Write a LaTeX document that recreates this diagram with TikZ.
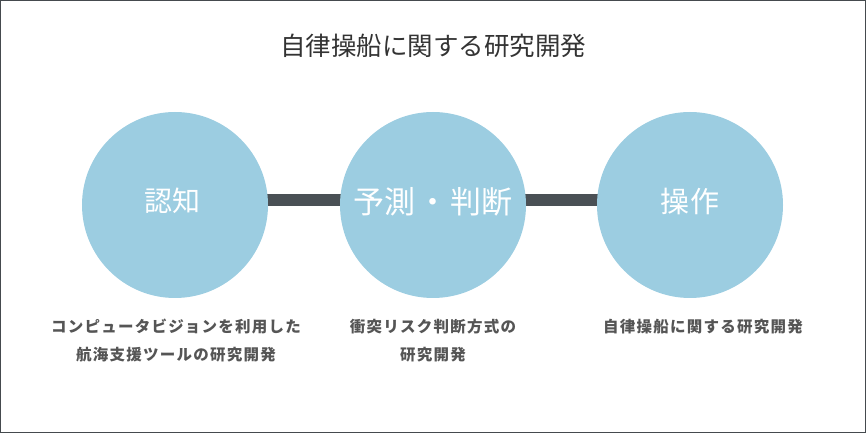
\documentclass[tikz,border=0pt]{standalone}
\usepackage{fontspec}
\usetikzlibrary{backgrounds}
\setmainfont{Noto Sans CJK JP}
\newfontfamily\jpfont{Noto Sans CJK JP}
\newfontfamily\jplbl[LetterSpace=8]{Noto Sans CJK JP}
\definecolor{circblue}{HTML}{9CCDE1}
\definecolor{bargray}{HTML}{4A5055}
\definecolor{framegray}{HTML}{454A4E}
\definecolor{titlegray}{HTML}{333333}
\definecolor{labelgray}{HTML}{555555}
\tikzset{
  stage/.style={circle, fill=circblue, minimum size=186bp, inner sep=0pt},
  stagetext/.style={text=white, inner sep=0pt,
    font=\jpfont\fontsize{28bp}{32bp}\selectfont},
  link/.style={draw=bargray, line width=12bp},
  desc/.style={text=labelgray, align=center, inner sep=0pt,
    font=\jplbl\bfseries\fontsize{15.5bp}{28bp}\selectfont},
  heading/.style={text=titlegray, inner sep=0pt,
    font=\jpfont\fontsize{25.5bp}{30bp}\selectfont}
}
\begin{document}
\begin{tikzpicture}[x=1bp,y=-1bp]
\useasboundingbox (0,0) rectangle (866,433);
\draw[framegray, line width=1.5bp] (0.75,0.75) rectangle (865.25,432.25);
\node[heading] (title) at (433,46) {自律操船に関する研究開発};
\node[stage] (c1) at (175,205) {};
\node[stage] (c2) at (433,205) {};
\node[stage] (c3) at (690,205) {};
\begin{scope}[on background layer]
\path[link] ([yshift=5bp]c1.center) -- ([yshift=5bp]c2.center);
\path[link] ([yshift=5bp]c2.center) -- ([yshift=5bp]c3.center);
\end{scope}
\node[stagetext] (t1) at (172,201) {認知};
\node[stagetext, font=\jpfont\fontsize{31bp}{34bp}\selectfont] (t2) at (433,202) {予測\hspace{2bp}・\hspace{2bp}判断};
\node[stagetext, font=\jpfont\fontsize{29bp}{33bp}\selectfont] (t3) at (690,201) {操\hspace{2bp}作};
\node[desc] (d1) at (176,341) {コンピュータビジョンを利用した\\航海支援ツールの研究開発};
\node[desc] (d2) at (433,341) {衝突リスク判断方式の\\研究開発};
\node[desc] (d3) at (703,327) {自律操船に関する研究開発};
\end{tikzpicture}
\end{document}
